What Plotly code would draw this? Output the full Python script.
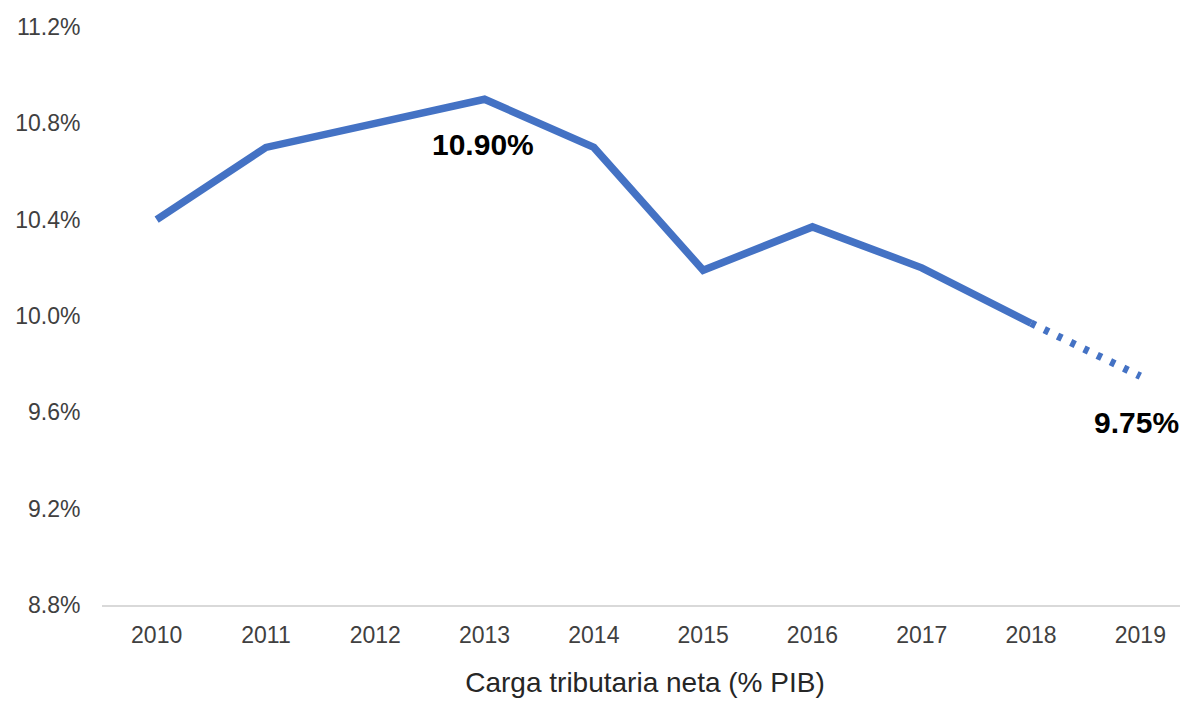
import plotly.graph_objects as go

years = ["2010", "2011", "2012", "2013", "2014", "2015", "2016", "2017", "2018", "2019"]
carga = [10.40, 10.70, 10.80, 10.90, 10.70, 10.19, 10.37, 10.20, 9.97, 9.75]
solid_n = 9  # 2010-2018 observed, 2018-2019 projected (dotted)
y_ticks = [8.8, 9.2, 9.6, 10.0, 10.4, 10.8, 11.2]
y_ticktext = ["8.8%", "9.2%", "9.6%", "10.0%", "10.4%", "10.8%", "11.2%"]
label_years = ["2013", "2019"]
label_texts = ["10.90%", "9.75%"]

LINE = "#4472C4"
FONT = "Arial"

fig = go.Figure()
fig.add_trace(go.Scatter(
    x=years[:solid_n], y=carga[:solid_n], mode="lines",
    line=dict(color=LINE, width=7.5), hoverinfo="skip", showlegend=False))
fig.add_trace(go.Scatter(
    x=years[solid_n - 1:], y=carga[solid_n - 1:], mode="lines",
    line=dict(color=LINE, width=7.5, dash="5px,9.7px"), hoverinfo="skip", showlegend=False))

shifts = [(-2, -45), (-4, -46)]
for k, (yr, txt) in enumerate(zip(label_years, label_texts)):
    i = years.index(yr)
    fig.add_annotation(x=i, y=carga[i], xref="x", yref="y", text="<b>" + txt + "</b>",
                       showarrow=False, xshift=shifts[k][0], yshift=shifts[k][1],
                       font=dict(family=FONT, size=30, color="#000000"))

fig.update_layout(
    width=1180, height=699,
    margin=dict(l=94, r=0, t=19, b=102),
    paper_bgcolor="white", plot_bgcolor="white",
    font=dict(family=FONT, color="#404040"),
)
fig.update_xaxes(
    type="category", range=[-0.5, 9.436],
    showgrid=False, showline=True, linecolor="#D9D9D9", linewidth=2,
    ticks="outside", ticklen=8, tickcolor="rgba(0,0,0,0)",
    tickfont=dict(size=23, color="#404040"),
    title=dict(text="Carga tributaria neta (% PIB)", font=dict(size=28, color="#262626"), standoff=26),
)
fig.update_yaxes(
    range=[8.8, 11.2], tickvals=y_ticks, ticktext=y_ticktext,
    showgrid=False, zeroline=False, showline=False,
    ticks="outside", ticklen=16, tickcolor="rgba(0,0,0,0)",
    tickfont=dict(size=23, color="#404040"),
)

fig.write_html("out.html")
